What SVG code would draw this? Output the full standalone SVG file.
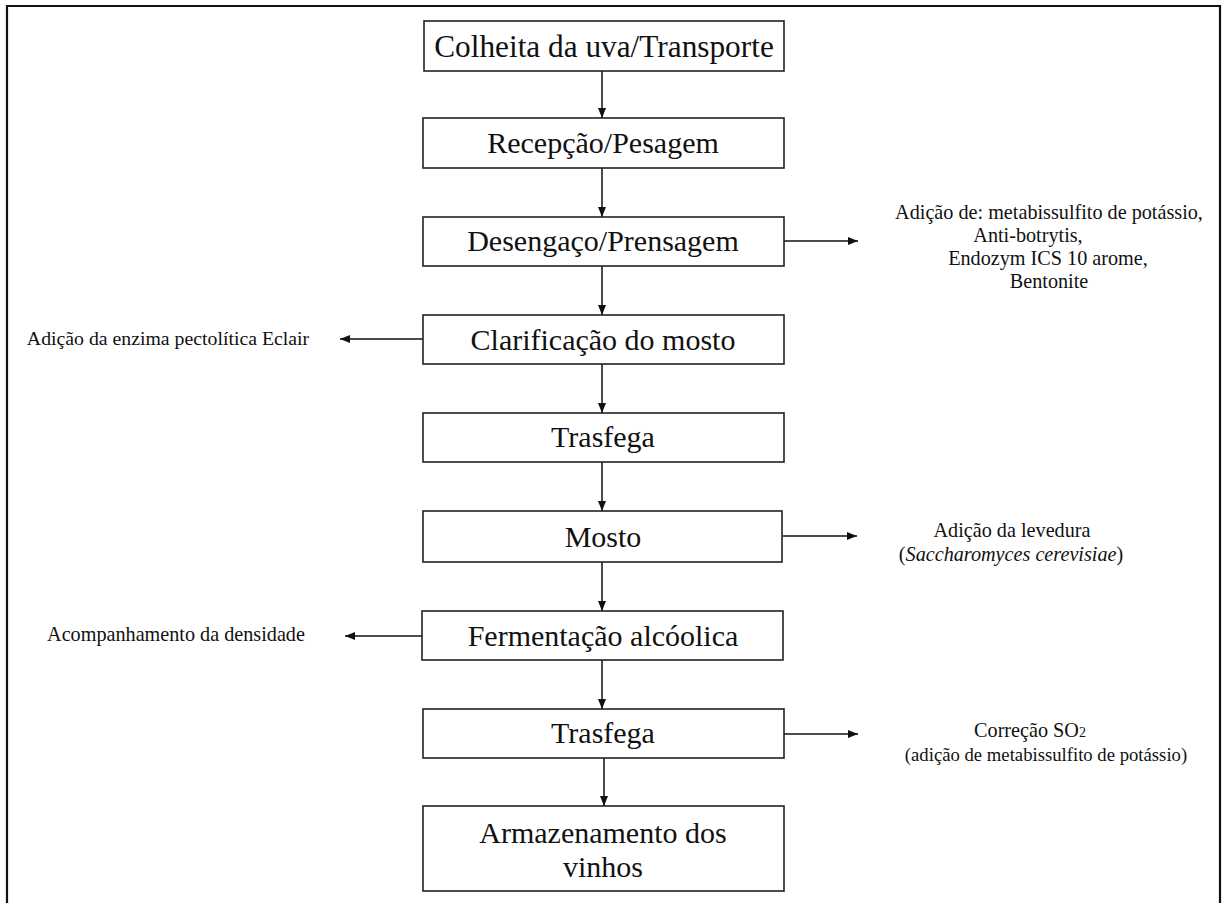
<svg xmlns="http://www.w3.org/2000/svg" width="1222" height="903" viewBox="0 0 1222 903">
<defs>
<style>
.box{fill:#fff;stroke:#222;stroke-width:1.6}
.bt{font-size:30px;fill:#111;text-anchor:middle}
.st{font-size:20.2px;fill:#111;text-anchor:middle}
.cn{stroke:#111;stroke-width:1.5;fill:none;marker-end:url(#ah)}
</style>
<marker id="ah" viewBox="0 0 10 8" refX="10" refY="4" markerWidth="10" markerHeight="8" markerUnits="userSpaceOnUse" orient="auto">
<path d="M0,0 L10,4 L0,8 z" fill="#111"/>
</marker>
</defs>
<rect width="1222" height="903" fill="#fff"/>
<path d="M7,910 V6 H1220 V910" fill="none" stroke="#111" stroke-width="2.2"/>

<g id="connectors">
<line class="cn" x1="602" y1="71" x2="602" y2="118"/>
<line class="cn" x1="602" y1="168" x2="602" y2="217"/>
<line class="cn" x1="602" y1="266" x2="602" y2="315"/>
<line class="cn" x1="602" y1="364" x2="602" y2="413"/>
<line class="cn" x1="602" y1="462" x2="602" y2="511"/>
<line class="cn" x1="602" y1="562" x2="602" y2="611"/>
<line class="cn" x1="602" y1="660" x2="602" y2="709"/>
<line class="cn" x1="604" y1="758" x2="604" y2="806"/>
<line class="cn" x1="784" y1="241" x2="858" y2="241"/>
<line class="cn" x1="423" y1="339" x2="340" y2="339"/>
<line class="cn" x1="783" y1="536" x2="857" y2="536"/>
<line class="cn" x1="422" y1="636" x2="345" y2="636"/>
<line class="cn" x1="784" y1="734" x2="858" y2="734"/>
</g>

<g font-family="'Liberation Serif', 'Times New Roman', Times, serif">
<g id="n1"><rect class="box" x="424" y="21" width="360" height="50"/><text class="bt" x="604" y="57" style="font-size:31.3px">Colheita da uva/Transporte</text></g>
<g id="n2"><rect class="box" x="423" y="118" width="361" height="50"/><text class="bt" x="603" y="153">Recepção/Pesagem</text></g>
<g id="n3"><rect class="box" x="423" y="217" width="361" height="49"/><text class="bt" x="603" y="251">Desengaço/Prensagem</text></g>
<g id="n4"><rect class="box" x="423" y="315" width="361" height="49"/><text class="bt" x="603" y="350">Clarificação do mosto</text></g>
<g id="n5"><rect class="box" x="423" y="413" width="361" height="49"/><text class="bt" x="603" y="447">Trasfega</text></g>
<g id="n6"><rect class="box" x="423" y="511" width="359" height="51"/><text class="bt" x="603" y="547">Mosto</text></g>
<g id="n7"><rect class="box" x="422" y="611" width="361" height="49"/><text class="bt" x="603" y="646">Fermentação alcóolica</text></g>
<g id="n8"><rect class="box" x="423" y="709" width="361" height="49"/><text class="bt" x="603" y="743">Trasfega</text></g>
<g id="n9"><rect class="box" x="423" y="806" width="361" height="85"/><text class="bt" x="603" y="843">Armazenamento dos</text><text class="bt" x="603" y="877">vinhos</text></g>

<g id="l1">
<text class="st" x="1049" y="219">Adição de: metabissulfito de potássio,</text>
<text class="st" x="1028" y="242">Anti-botrytis,</text>
<text class="st" x="1048" y="265">Endozym ICS 10 arome,</text>
<text class="st" x="1049" y="288">Bentonite</text>
</g>
<g id="l2"><text class="st" x="168" y="345" style="font-size:19.8px">Adição da enzima pectolítica Eclair</text></g>
<g id="l3">
<text class="st" x="1012" y="537">Adição da levedura</text>
<text class="st" x="1011" y="561">(<tspan font-style="italic">Saccharomyces cerevisiae</tspan>)</text>
</g>
<g id="l4"><text class="st" x="176" y="641">Acompanhamento da densidade</text></g>
<g id="l5">
<text class="st" x="1030" y="737">Correção SO<tspan style="font-size:14px">2</tspan></text>
<text class="st" x="1046" y="761" style="font-size:18.7px">(adição de metabissulfito de potássio)</text>
</g>
</g>
</svg>
